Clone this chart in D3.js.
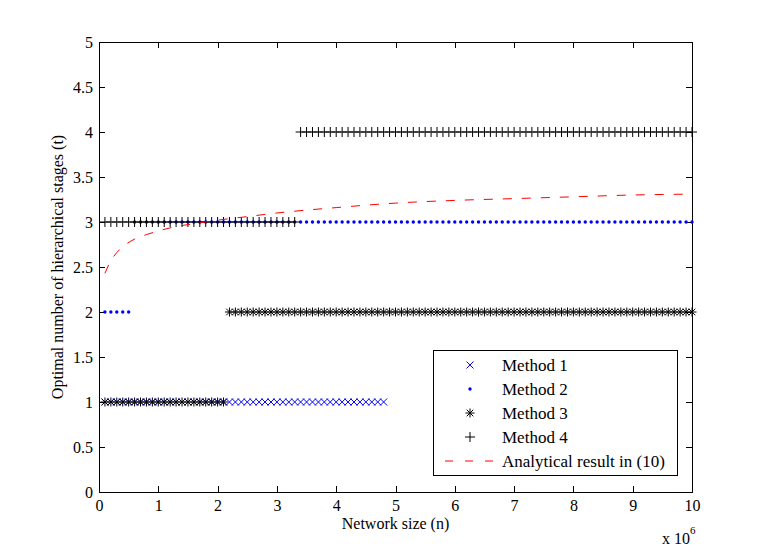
<!DOCTYPE html>
<html>
<head>
<meta charset="utf-8">
<script src="https://cdn.jsdelivr.net/npm/d3@7"></script>
<style>
  body { margin: 0; background: #fff; }
  svg text { font-family: 'Liberation Serif', 'Times New Roman', 'DejaVu Serif', serif; fill: #000; }
</style>
</head>
<body>
<svg id="chart" width="763" height="553" font-family="Liberation Serif"></svg>
<script>
// network size in units of 10^6, sampled every 0.1 x 10^6
const nStep = 0.1;
const xTicks = [0, 1, 2, 3, 4, 5, 6, 7, 8, 9, 10];
const yTicks = [0, 0.5, 1, 1.5, 2, 2.5, 3, 3.5, 4, 4.5, 5];

// runs of constant stage count: [from n, to n, t]
const method1Runs = [[0.1, 4.8, 1]];
const method2Runs = [[0.1, 0.5, 2], [0.6, 10, 3]];
const method3Runs = [[0.1, 2.1, 1], [2.2, 10, 2]];
const method4Runs = [[0.1, 3.3, 3], [3.4, 10, 4]];

// analytical result in (10)
const analyticalN = [0.1, 0.2, 0.3, 0.45, 0.6, 0.8, 1.0, 1.3, 1.6, 2.0, 2.5, 3.0, 4.0, 5.0, 6.0, 7.0, 8.0, 9.0, 10.0];
const analyticalT = [2.43, 2.57, 2.66, 2.75, 2.81, 2.86, 2.90, 2.95, 2.98, 3.02, 3.06, 3.10, 3.16, 3.21, 3.24, 3.26, 3.28, 3.30, 3.31];

const legendLabels = ['Method 1', 'Method 2', 'Method 3', 'Method 4', 'Analytical result in (10)'];

const margin = { top: 42, right: 71, bottom: 61, left: 99 };
const W = 763, H = 553;
const width = W - margin.left - margin.right;
const height = H - margin.top - margin.bottom;
const serif = "'Liberation Serif', 'Times New Roman', serif";

const svg = d3.select('#chart');

const x = d3.scaleLinear().domain([0, 10]).range([margin.left, margin.left + width]);
const y = d3.scaleLinear().domain([0, 5]).range([margin.top + height, margin.top]);

function expand(runs) {
    const pts = [];
    runs.forEach(function(r) {
        const k0 = Math.round(r[0] / nStep), k1 = Math.round(r[1] / nStep);
        for (let k = k0; k <= k1; k++) pts.push({ n: k * nStep, t: r[2] });
    });
    return pts;
}

const markers = {
    cross: 'M-3.5,-3.5L3.5,3.5M-3.5,3.5L3.5,-3.5',
    plus: 'M-5,0L5,0M0,-5L0,5',
    star: 'M-4.5,0L4.5,0M0,-4.5L0,4.5M-3.3,-3.3L3.3,3.3M-3.3,3.3L3.3,-3.3'
};

// axes box with inward ticks, MATLAB style
const axisG = svg.append('g').attr('shape-rendering', 'crispEdges');
axisG.append('rect')
    .attr('x', margin.left).attr('y', margin.top)
    .attr('width', width).attr('height', height)
    .attr('fill', 'none').attr('stroke', '#000').attr('stroke-width', 1);

const gBottom = axisG.append('g').attr('transform', 'translate(0,' + (margin.top + height) + ')')
    .call(d3.axisBottom(x).tickValues(xTicks).tickSizeInner(-6).tickSizeOuter(0).tickPadding(8).tickFormat(d3.format('d')));
const gTop = axisG.append('g').attr('transform', 'translate(0,' + margin.top + ')')
    .call(d3.axisTop(x).tickValues(xTicks).tickSizeInner(-6).tickSizeOuter(0).tickFormat(''));
const gLeft = axisG.append('g').attr('transform', 'translate(' + margin.left + ',0)')
    .call(d3.axisLeft(y).tickValues(yTicks).tickSizeInner(-6).tickSizeOuter(0).tickPadding(6).tickFormat(d3.format('')));
const gRight = axisG.append('g').attr('transform', 'translate(' + (margin.left + width) + ',0)')
    .call(d3.axisRight(y).tickValues(yTicks).tickSizeInner(-6).tickSizeOuter(0).tickFormat(''));

[gBottom, gTop, gLeft, gRight].forEach(function(g) {
    g.attr('font-family', null).attr('font-size', null);
    g.select('.domain').remove();
    g.selectAll('line').attr('stroke', '#000');
    g.selectAll('text').style('font-size', '16px').style('font-family', serif);
});

// markers
function drawSeries(runs, path, color, sw) {
    svg.append('g').selectAll('path')
        .data(expand(runs))
        .join('path')
        .attr('transform', function(d) { return 'translate(' + x(d.n) + ',' + y(d.t) + ')'; })
        .attr('d', path)
        .attr('fill', 'none')
        .attr('stroke', color)
        .attr('stroke-width', sw);
}

drawSeries(method1Runs, markers.cross, '#0000ff', 1);
svg.append('g').selectAll('circle')
    .data(expand(method2Runs))
    .join('circle')
    .attr('cx', function(d) { return x(d.n); })
    .attr('cy', function(d) { return y(d.t); })
    .attr('r', 1.7)
    .attr('fill', '#0000ff');
drawSeries(method3Runs, markers.star, '#000', 1);
drawSeries(method4Runs, markers.plus, '#000', 1);

const analytical = analyticalN.map(function(n, i) { return { n: n, t: analyticalT[i] }; });
svg.append('path')
    .datum(analytical)
    .attr('d', d3.line().x(function(d) { return x(d.n); }).y(function(d) { return y(d.t); }).curve(d3.curveMonotoneX))
    .attr('fill', 'none')
    .attr('stroke', '#ff0000')
    .attr('stroke-width', 1)
    .attr('stroke-dasharray', '9,10');

// axis labels
svg.append('text')
    .attr('x', x(5)).attr('y', 529)
    .attr('text-anchor', 'middle')
    .style('font-size', '16px')
    .style('font-family', serif)
    .text('Network size (n)');

svg.append('text')
    .attr('transform', 'translate(63,' + y(2.5) + ') rotate(-90)')
    .attr('text-anchor', 'middle')
    .style('font-size', '16px')
    .style('font-family', serif)
    .text('Optimal number of hierarchical stages (t)');

const expo = svg.append('text').attr('x', 662).attr('y', 544).style('font-size', '16px').style('font-family', serif);
expo.append('tspan').text('x 10');
expo.append('tspan').attr('dy', -10).style('font-size', '11px').text('6');

// legend
const lg = svg.append('g');
lg.append('rect')
    .attr('x', 433.5).attr('y', 350.5).attr('width', 244).attr('height', 125)
    .attr('fill', '#fff').attr('stroke', '#000').attr('stroke-width', 1)
    .attr('shape-rendering', 'crispEdges');

const rowY = function(i) { return 365 + i * 24; };
const symX = 470;

lg.append('path').attr('transform', 'translate(' + symX + ',' + rowY(0) + ')')
    .attr('d', markers.cross).attr('fill', 'none').attr('stroke', '#0000ff');
lg.append('circle').attr('cx', symX).attr('cy', rowY(1)).attr('r', 1.7).attr('fill', '#0000ff');
lg.append('path').attr('transform', 'translate(' + symX + ',' + rowY(2) + ')')
    .attr('d', markers.star).attr('fill', 'none').attr('stroke', '#000');
lg.append('path').attr('transform', 'translate(' + symX + ',' + rowY(3) + ')')
    .attr('d', markers.plus).attr('fill', 'none').attr('stroke', '#000');
lg.append('line')
    .attr('x1', 445).attr('x2', 496).attr('y1', rowY(4)).attr('y2', rowY(4))
    .attr('stroke', '#ff0000').attr('stroke-dasharray', '8,12');

lg.selectAll('text.lab')
    .data(legendLabels)
    .join('text')
    .attr('class', 'lab')
    .attr('x', 502)
    .attr('y', function(d, i) { return rowY(i); })
    .attr('dy', '0.35em')
    .style('font-size', '17px')
    .style('font-family', serif)
    .text(function(d) { return d; });
</script>
</body>
</html>
